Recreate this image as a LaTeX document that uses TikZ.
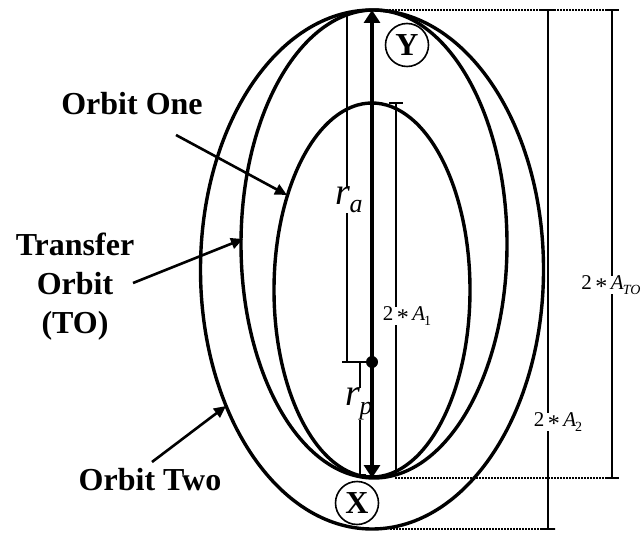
\documentclass[tikz,border=0pt]{standalone}
\usepackage{fontspec}
\setmainfont{Liberation Serif}
\usetikzlibrary{arrows.meta}
\newcommand{\dimtxt}[2]{2\,\raisebox{-0.45ex}{\fontsize{24}{24}\selectfont *}\,\textit{A}\kern-1pt\raisebox{-0.45ex}{\fontsize{14}{14}\selectfont #2}}
\begin{document}
\begin{tikzpicture}[x=1pt,y=-1pt,
  orbit/.style={line width=3.4pt},
  dimln/.style={line width=2.1pt},
  dotln/.style={line width=2.4pt, dash pattern=on 2pt off 1pt},
  lbl/.style={font=\fontsize{32}{39}\selectfont\bfseries, align=center, inner sep=0pt},
  ptr/.style={line width=2.6pt, -{Triangle[length=12pt,width=11pt]}},
  radarrow/.style={line width=3.2pt, -{Triangle[length=13pt,width=16pt]}},
  dimlbl/.style={font=\fontsize{21}{24}\selectfont, inner sep=0pt},
  circlbl/.style={circle, draw, line width=1.6pt, minimum size=43pt, inner sep=0pt, font=\fontsize{32}{32}\selectfont\bfseries},
  rlbl/.style={font=\fontsize{38}{38}\selectfont\itshape, inner sep=0pt}
]
\useasboundingbox (0,0) rectangle (644,534);

% orbits
\draw[orbit] (372,290) ellipse [x radius=98pt, y radius=187pt];
\draw[orbit] (374,244) ellipse [x radius=133pt, y radius=234pt];
\draw[orbit] (372,269.5) ellipse [x radius=171.5pt, y radius=259.5pt];

% key points
\coordinate (focus) at (372,362);
\coordinate (apo) at (372,10);
\coordinate (peri) at (372,478);
\coordinate (bot2) at (372,529);

% radius arrows
\draw[radarrow] (focus) -- (apo);
\draw[radarrow] (focus) -- (peri);
\fill (focus) circle (6pt);

% r_a / r_p
\node[rlbl] (ra) at (349,200) {r\kern-0.5pt\raisebox{-0.45ex}{\fontsize{26}{26}\selectfont a}};
\node[rlbl] (rp) at (359,404) {r\kern-0.5pt\raisebox{-0.5ex}{\fontsize{26}{26}\selectfont p}};
\coordinate (raTop) at (347,14);
\coordinate (raBot) at (347,362);
\coordinate (tickL) at (342,362);
\coordinate (rpTop) at (360,362);
\coordinate (rpBot) at (360,475);
\draw[dimln] (raTop) -- (raTop |- ra.north);
\draw[dimln] (raBot |- ra.south) -- (raBot);
\draw[dimln] (tickL) -- (focus);
\draw[dimln] (rpTop) -- (rpTop |- rp.north);
\draw[dimln] (rpBot |- rp.south) -- (rpBot);
\draw[dimln] ([xshift=-6pt]rpBot) -- ([xshift=6pt]rpBot);

% 2*A1
\node[dimlbl] (a1) at (407,316) {\dimtxt{}{1}};
\coordinate (a1Top) at (396,103);
\coordinate (a1Bot) at (396,474);
\draw[dimln] (a1Top) -- (a1Top |- a1.north);
\draw[dimln] (a1Bot |- a1.south) -- (a1Bot);
\draw[dimln] ([xshift=-7pt]a1Top) -- ([xshift=7pt]a1Top);

% dotted extension lines
\coordinate (topR) at (618,10);
\coordinate (periR) at (618,478);
\coordinate (bot2R) at (555,529);
\draw[dotln] (383,10) -- (topR);
\draw[dotln] (395,478) -- (periR);
\draw[dotln] (390,529) -- (bot2R);

% 2*A_TO
\node[dimlbl] (ato) at (611,285) {\dimtxt{}{\itshape TO}};
\coordinate (atoTop) at (612,10);
\coordinate (atoBot) at (612,478);
\draw[dimln] (atoTop) -- (atoTop |- ato.north);
\draw[dimln] (atoBot |- ato.south) -- (atoBot);
\draw[dimln] ([xshift=-7pt]atoTop) -- ([xshift=7pt]atoTop);
\draw[dimln] ([xshift=-7pt]atoBot) -- ([xshift=7pt]atoBot);

% 2*A_2
\node[dimlbl] (a2) at (558,422) {\dimtxt{}{2}};
\coordinate (a2Top) at (548,10);
\coordinate (a2Bot) at (548,529);
\draw[dimln] (a2Top) -- (a2Top |- a2.north);
\draw[dimln] (a2Bot |- a2.south) -- (a2Bot);
\draw[dimln] ([xshift=-7pt]a2Top) -- ([xshift=7pt]a2Top);
\draw[dimln] ([xshift=-7pt]a2Bot) -- ([xshift=7pt]a2Bot);

% circled points
\node[circlbl] (Y) at (407,45) {Y};
\node[circlbl] (X) at (357,503) {X};

% labels and pointers
\node[lbl] (one) at (132,104) {Orbit One};
\node[lbl] (to) at (75,287) {Transfer\\Orbit\\(TO)};
\node[lbl] (two) at (150,480) {Orbit Two};
\coordinate (oneTail) at (176,135);
\coordinate (oneHead) at (287,195);
\coordinate (toTail) at (133,283);
\coordinate (toHead) at (243,239);
\coordinate (twoTail) at (152,462);
\coordinate (twoHead) at (226,406);
\draw[ptr] (oneTail) -- (oneHead);
\draw[ptr] (toTail) -- (toHead);
\draw[ptr] (twoTail) -- (twoHead);
\end{tikzpicture}
\end{document}
